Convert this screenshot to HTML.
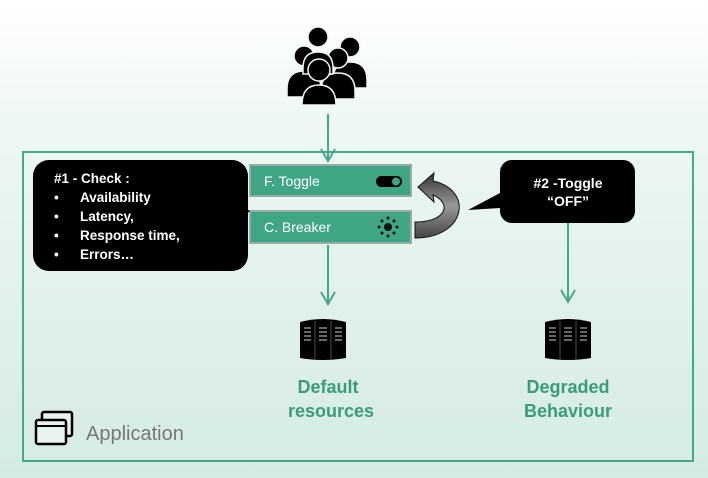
<!DOCTYPE html>
<html><head><meta charset="utf-8"><style>
html,body{margin:0;padding:0;}
body{width:708px;height:478px;overflow:hidden;background:linear-gradient(#ffffff 0px,#eef7f4 120px,#d4ebe3 478px);font-family:"Comic Sans MS","Liberation Sans",sans-serif;}
</style></head><body>
<svg width="708" height="478" viewBox="0 0 708 478" xmlns="http://www.w3.org/2000/svg" style="position:absolute;left:0;top:0">
<defs>
<linearGradient id="ag" x1="0" y1="0" x2="0" y2="1"><stop offset="0" stop-color="#333"/><stop offset="0.5" stop-color="#999"/><stop offset="1" stop-color="#444"/></linearGradient>
</defs>
<!-- people icon -->
<g fill="#000" stroke="#eef7f4" stroke-width="1.5">
<circle cx="350" cy="47" r="10"/><path d="M333 80 q0-18 17-18 q17 0 17 18 v8 h-34z"/>
<circle cx="304" cy="56" r="10"/><path d="M287 89 q0-18 17-18 q17 0 17 18 v8 h-34z"/>
<circle cx="338" cy="58" r="10"/><path d="M321 91 q0-18 17-18 q17 0 17 18 v8 h-34z"/>
<circle cx="318" cy="37" r="10"/><path d="M303 68 q0-16 15-16 q15 0 15 16 v6 h-30z"/>
<circle cx="319" cy="70" r="11"/><path d="M302 105 q0-20 17-20 q17 0 17 20 v0 h-34z"/>
</g>
<!-- app box -->
<rect x="23" y="152" width="670" height="309" fill="none" stroke="#45a889" stroke-width="2"/>
<!-- arrows -->
<g stroke="#45a889" stroke-width="2" fill="none">
<line x1="328" y1="114" x2="328" y2="160"/><polyline points="321,149 328,161 335,149"/>
<line x1="328" y1="245" x2="328" y2="304"/><polyline points="321,292 328,304 335,292"/>
<line x1="568" y1="222" x2="568" y2="302"/><polyline points="561,290 568,302 575,290"/>
</g>
<!-- toggles -->
<rect x="250" y="165" width="161" height="31" fill="#3fa585" stroke="#9aa" stroke-width="2"/>
<rect x="250" y="211" width="161" height="32" fill="#3fa585" stroke="#9aa" stroke-width="2"/>
<text x="264" y="186" fill="#fff" font-size="14" font-family="Comic Sans MS,Liberation Sans,sans-serif">F. Toggle</text>
<text x="264" y="232" fill="#fff" font-size="14" font-family="Comic Sans MS,Liberation Sans,sans-serif">C. Breaker</text>
<rect x="376" y="176" width="26" height="11" rx="5.5" fill="#000"/><circle cx="396" cy="181.5" r="4" fill="#3fa585"/>
<g fill="#111"><circle cx="388" cy="227" r="4"/>
<circle cx="388" cy="218" r="1.5"/><circle cx="388" cy="236" r="1.5"/><circle cx="379" cy="227" r="1.5"/><circle cx="397" cy="227" r="1.5"/>
<circle cx="382" cy="221" r="1.5"/><circle cx="394" cy="221" r="1.5"/><circle cx="382" cy="233" r="1.5"/><circle cx="394" cy="233" r="1.5"/></g>
<!-- left callout -->
<rect x="33" y="160" width="215" height="111" rx="16" fill="#000"/>
<polygon points="225,180 250,212 225,215" fill="#000"/>
<g fill="#fff" font-size="13.5" font-weight="bold" font-family="Comic Sans MS,Liberation Sans,sans-serif">
<text x="54" y="183">#1 - Check :</text>
<text x="54" y="202">•</text><text x="80" y="202">Availability</text>
<text x="54" y="221">•</text><text x="80" y="221">Latency,</text>
<text x="54" y="240">•</text><text x="80" y="240">Response time,</text>
<text x="54" y="259">•</text><text x="80" y="259">Errors…</text>
</g>
<!-- right callout -->
<rect x="500" y="160" width="135" height="63" rx="12" fill="#000"/>
<polygon points="500,193 468,210 500,208" fill="#000"/>
<g fill="#fff" font-size="14" font-weight="bold" font-family="Comic Sans MS,Liberation Sans,sans-serif" text-anchor="middle">
<text x="568" y="188">#2 -Toggle</text><text x="568" y="206">“OFF”</text></g>
<!-- curved arrow -->
<path d="M415 222 C447 222 452 203 433 195 L434 202 L418 187 L434 173 L433 181 C474 190 466 238 415 238 Z" fill="url(#ag)" stroke="#111" stroke-width="1"/>
<!-- servers -->
<g>
<path d="M300 322 q23-6 46 0 v36 q-23 4 -46 0z" fill="#000"/>
<path d="M545 322 q23-6 46 0 v36 q-23 4 -46 0z" fill="#000"/>
<g stroke="#333" stroke-width="1.5">
<line x1="315" y1="321" x2="315" y2="359"/><line x1="331" y1="321" x2="331" y2="359"/>
<line x1="560" y1="321" x2="560" y2="359"/><line x1="576" y1="321" x2="576" y2="359"/>
</g>
<g stroke="#888" stroke-width="1.5">
<path d="M304 328h7M304 332h7M304 336h7M304 340h7M319 328h8M319 332h8M319 336h8M319 340h8M335 328h7M335 332h7M335 336h7M335 340h7"/>
<path d="M549 328h7M549 332h7M549 336h7M549 340h7M564 328h8M564 332h8M564 336h8M564 340h8M580 328h7M580 332h7M580 336h7M580 340h7"/>
</g></g>
<g fill="#3a9c7b" font-size="18" font-weight="bold" font-family="Comic Sans MS,Liberation Sans,sans-serif" text-anchor="middle">
<text x="328" y="393">Default</text><text x="331" y="417">resources</text>
<text x="568" y="393">Degraded</text><text x="568" y="417">Behaviour</text></g>
<!-- application icon -->
<rect x="42" y="412" width="30" height="24" rx="2" fill="#e8f3ef" stroke="#000" stroke-width="2.5"/>
<rect x="36" y="420" width="30" height="24" rx="2" fill="#e8f3ef" stroke="#000" stroke-width="2.5"/>
<line x1="36" y1="426" x2="66" y2="426" stroke="#000" stroke-width="2"/>
<text x="86" y="440" fill="#777" font-size="20" font-family="Comic Sans MS,Liberation Sans,sans-serif">Application</text>
</svg>
</body></html>
